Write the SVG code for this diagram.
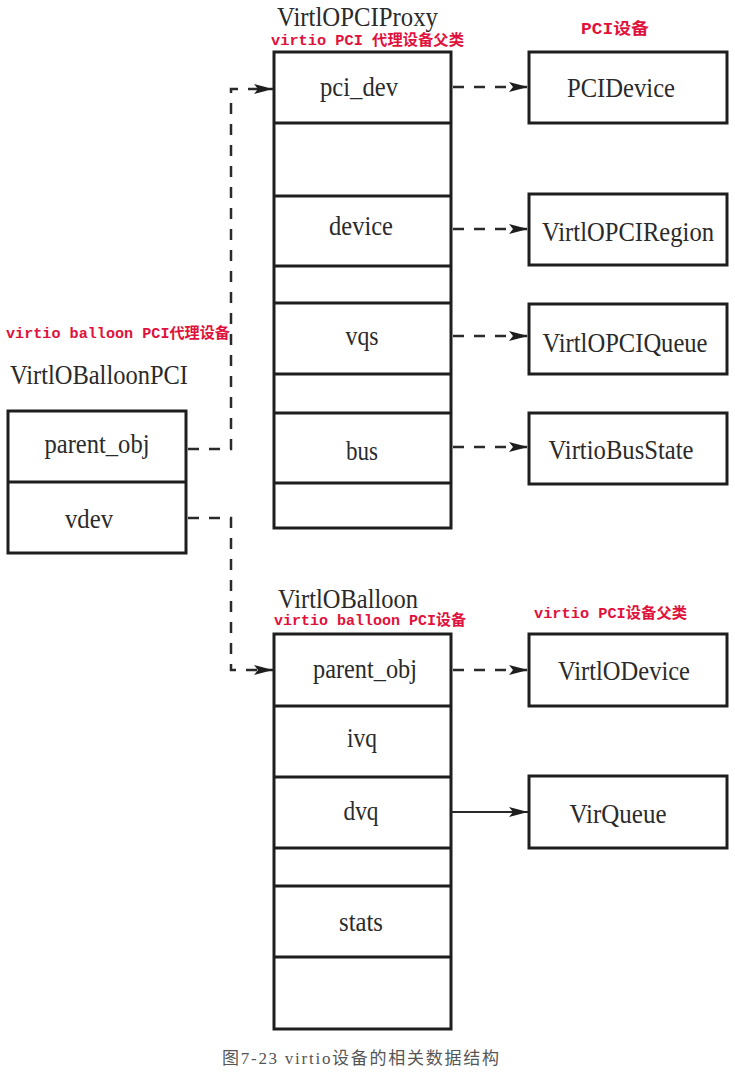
<svg xmlns="http://www.w3.org/2000/svg" width="735" height="1074" viewBox="0 0 735 1074">
<defs>
<style>
.box{fill:#fff;stroke:#1e1e1e;stroke-width:3}
.sep{stroke:#1e1e1e;stroke-width:3}
.lbl{font-family:"Liberation Serif","Times New Roman",serif;font-size:27px;fill:#2a2a2a;text-anchor:middle}
.ttl{font-family:"Liberation Serif","Times New Roman",serif;font-size:28px;fill:#2a2a2a}
.red{font-family:"Liberation Mono","Noto Sans CJK SC",monospace;font-size:15px;font-weight:bold;fill:#e0113c}
.cap{font-family:"Liberation Serif","Noto Sans CJK SC",serif;font-size:17px;fill:#555}
.dash{fill:none;stroke:#2a2a2a;stroke-width:2.5;stroke-dasharray:11 10}
.solid{fill:none;stroke:#2a2a2a;stroke-width:2}
</style>
<marker id="arr" markerUnits="userSpaceOnUse" markerWidth="19" markerHeight="10" refX="19" refY="5" orient="auto">
<path d="M0,0 L19,5 L0,10 L4,5 z" fill="#1e1e1e"/>
</marker>
</defs>
<rect width="735" height="1074" fill="#fff"/>

<g id="proxy">
<text class="ttl" x="277" y="26" textLength="161" lengthAdjust="spacingAndGlyphs">VirtlOPCIProxy</text>
<text class="red" x="271" y="45" textLength="193" lengthAdjust="spacingAndGlyphs">virtio PCI 代理设备父类</text>
<rect class="box" x="274" y="52" width="177" height="476"/>
<line class="sep" x1="274" y1="123" x2="451" y2="123"/>
<line class="sep" x1="274" y1="196" x2="451" y2="196"/>
<line class="sep" x1="274" y1="266" x2="451" y2="266"/>
<line class="sep" x1="274" y1="303" x2="451" y2="303"/>
<line class="sep" x1="274" y1="374" x2="451" y2="374"/>
<line class="sep" x1="274" y1="413" x2="451" y2="413"/>
<line class="sep" x1="274" y1="483" x2="451" y2="483"/>
<text class="lbl" x="359" y="96" textLength="78" lengthAdjust="spacingAndGlyphs">pci_dev</text>
<text class="lbl" x="361" y="235" textLength="64" lengthAdjust="spacingAndGlyphs">device</text>
<text class="lbl" x="362" y="345" textLength="33" lengthAdjust="spacingAndGlyphs">vqs</text>
<text class="lbl" x="362" y="460" textLength="32" lengthAdjust="spacingAndGlyphs">bus</text>
</g>

<g id="pcidevice">
<text class="red" x="581" y="34" textLength="68" lengthAdjust="spacingAndGlyphs" style="font-size:16px">PCI设备</text>
<rect class="box" x="529" y="52" width="198" height="71"/>
<text class="lbl" x="621" y="97" textLength="108" lengthAdjust="spacingAndGlyphs">PCIDevice</text>
</g>

<g id="region">
<rect class="box" x="529" y="194" width="198" height="71"/>
<text class="lbl" x="628" y="241" textLength="172" lengthAdjust="spacingAndGlyphs">VirtlOPCIRegion</text>
</g>

<g id="queue">
<rect class="box" x="529" y="304" width="198" height="70"/>
<text class="lbl" x="625" y="352" textLength="165" lengthAdjust="spacingAndGlyphs">VirtlOPCIQueue</text>
</g>

<g id="busstate">
<rect class="box" x="529" y="413" width="198" height="71"/>
<text class="lbl" x="621" y="459" textLength="145" lengthAdjust="spacingAndGlyphs">VirtioBusState</text>
</g>

<g id="balloonpci">
<text class="red" x="6" y="338" textLength="224" lengthAdjust="spacingAndGlyphs">virtio balloon PCI代理设备</text>
<text class="ttl" x="10" y="384" textLength="178" lengthAdjust="spacingAndGlyphs">VirtlOBalloonPCI</text>
<rect class="box" x="8" y="411" width="178" height="142"/>
<line class="sep" x1="8" y1="482" x2="186" y2="482"/>
<text class="lbl" x="97" y="453" textLength="105" lengthAdjust="spacingAndGlyphs">parent_obj</text>
<text class="lbl" x="89" y="528" textLength="48" lengthAdjust="spacingAndGlyphs">vdev</text>
</g>

<g id="balloon">
<text class="ttl" x="278" y="608" textLength="140" lengthAdjust="spacingAndGlyphs">VirtlOBalloon</text>
<text class="red" x="274" y="625" textLength="192" lengthAdjust="spacingAndGlyphs">virtio balloon PCI设备</text>
<rect class="box" x="274" y="634" width="177" height="395"/>
<line class="sep" x1="274" y1="706" x2="451" y2="706"/>
<line class="sep" x1="274" y1="777" x2="451" y2="777"/>
<line class="sep" x1="274" y1="848" x2="451" y2="848"/>
<line class="sep" x1="274" y1="886" x2="451" y2="886"/>
<line class="sep" x1="274" y1="957" x2="451" y2="957"/>
<text class="lbl" x="365" y="678" textLength="104" lengthAdjust="spacingAndGlyphs">parent_obj</text>
<text class="lbl" x="362" y="747" textLength="30" lengthAdjust="spacingAndGlyphs">ivq</text>
<text class="lbl" x="361" y="820" textLength="35" lengthAdjust="spacingAndGlyphs">dvq</text>
<text class="lbl" x="361" y="931" textLength="44" lengthAdjust="spacingAndGlyphs">stats</text>
</g>

<g id="virtiodevice">
<text class="red" x="534" y="618" textLength="153" lengthAdjust="spacingAndGlyphs">virtio PCI设备父类</text>
<rect class="box" x="529" y="634" width="198" height="72"/>
<text class="lbl" x="624" y="680" textLength="132" lengthAdjust="spacingAndGlyphs">VirtlODevice</text>
</g>

<g id="virqueue">
<rect class="box" x="529" y="776" width="198" height="72"/>
<text class="lbl" x="618" y="823" textLength="97" lengthAdjust="spacingAndGlyphs">VirQueue</text>
</g>

<g id="connectors">
<path class="dash" d="M453,87 L528,87" marker-end="url(#arr)"/>
<path class="dash" d="M453,229 L528,229" marker-end="url(#arr)"/>
<path class="dash" d="M453,336 L528,336" marker-end="url(#arr)"/>
<path class="dash" d="M453,447 L528,447" marker-end="url(#arr)"/>
<path class="dash" d="M453,670 L528,670" marker-end="url(#arr)"/>
<path class="solid" d="M451,812 L528,812" marker-end="url(#arr)"/>
<path class="dash" d="M188,449 L231,449 L231,89 L273,89" marker-end="url(#arr)"/>
<path class="dash" d="M188,518 L231,518 L231,670 L273,670" marker-end="url(#arr)"/>
</g>

<g id="caption">
<text class="cap" x="222" y="1064" textLength="277" lengthAdjust="spacing">图7-23 virtio设备的相关数据结构</text>
</g>
</svg>
